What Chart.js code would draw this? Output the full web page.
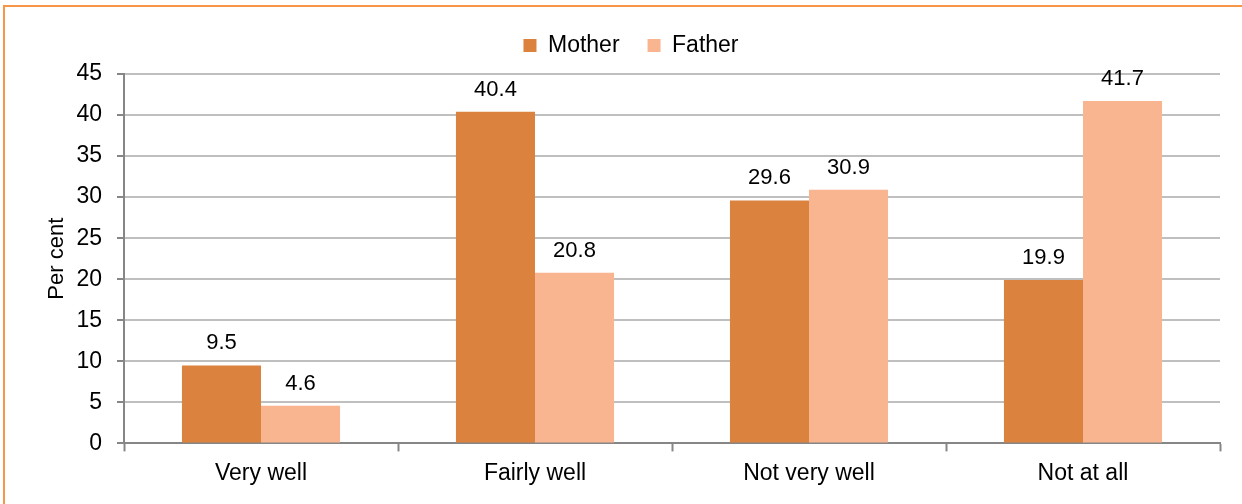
<!DOCTYPE html>
<html><head><meta charset="utf-8">
<script src="https://cdn.jsdelivr.net/npm/chart.js@4.4.1/dist/chart.umd.min.js"></script>
<style>
html,body{margin:0;padding:0;background:#fff;overflow:hidden;width:1242px;height:504px;position:relative}
#frame{position:absolute;left:3px;top:5px;width:1300px;height:600px;border-left:2px solid #F79646;border-top:2px solid #F79646;box-sizing:border-box}
#wrap{position:absolute;left:0;top:0;width:1262px;height:504px}
</style></head>
<body>
<div id="frame"></div>
<div id="wrap"><canvas id="c" width="1262" height="504"></canvas></div>
<script>
const categories = ['Very well', 'Fairly well', 'Not very well', 'Not at all'];
const motherValues = [9.5, 40.4, 29.6, 19.9];
const fatherValues = [4.6, 20.8, 30.9, 41.7];
const seriesNames = ['Mother', 'Father'];
const yMin = 0, yMax = 45, yStep = 5;
const yTitle = 'Per cent';

const FONT = '"Liberation Sans", Arial, sans-serif';

const valueLabels = {
  id: 'valueLabels',
  afterDatasetsDraw(chart) {
    const ctx = chart.ctx;
    ctx.save();
    ctx.font = '22px ' + FONT;
    ctx.fillStyle = '#000';
    ctx.textAlign = 'center';
    ctx.textBaseline = 'alphabetic';
    chart.data.datasets.forEach((ds, i) => {
      chart.getDatasetMeta(i).data.forEach((bar, j) => {
        ctx.fillText(ds.data[j].toFixed(1), bar.x, bar.y - 16);
      });
    });
    ctx.restore();
  }
};

const legendGap = {
  id: 'legendGap',
  afterInit(chart) {
    const lg = chart.legend;
    if (!lg) return;
    const orig = lg.fit;
    lg.fit = function () { orig.call(this); this.height += 7; };
  }
};

new Chart(document.getElementById('c'), {
  type: 'bar',
  data: {
    labels: categories,
    datasets: [
      { label: seriesNames[0], data: motherValues, backgroundColor: '#DA823E', borderWidth: 0 },
      { label: seriesNames[1], data: fatherValues, backgroundColor: '#F9B590', borderWidth: 0 }
    ]
  },
  options: {
    responsive: false,
    animation: false,
    devicePixelRatio: 1,
    layout: { padding: { left: 42, right: 42, top: 6, bottom: 9 } },
    datasets: { bar: { categoryPercentage: 0.577, barPercentage: 1 } },
    plugins: {
      legend: {
        position: 'top',
        labels: { boxWidth: 13, boxHeight: 13, padding: 28, color: '#000', font: { family: FONT, size: 23 } }
      },
      tooltip: { enabled: false }
    },
    scales: {
      x: {
        grid: { offset: true, drawOnChartArea: false, drawTicks: true, tickLength: 8, tickColor: '#868686', tickWidth: 2 },
        border: { color: '#868686', width: 2 },
        ticks: { color: '#000', font: { family: FONT, size: 23 }, padding: 8 }
      },
      y: {
        min: yMin, max: yMax,
        afterFit(scale) { scale.width = 82; },
        ticks: { stepSize: yStep, color: '#000', font: { family: FONT, size: 23 }, padding: 15 },
        grid: { color: '#BFBFBF', lineWidth: 2, tickLength: 7, tickColor: '#868686', tickWidth: 2 },
        border: { color: '#868686', width: 2 },
        title: { display: true, text: yTitle, color: '#000', font: { family: FONT, size: 22 }, padding: { top: 2, bottom: 0 } }
      }
    }
  },
  plugins: [valueLabels, legendGap]
});
</script>
</body></html>
